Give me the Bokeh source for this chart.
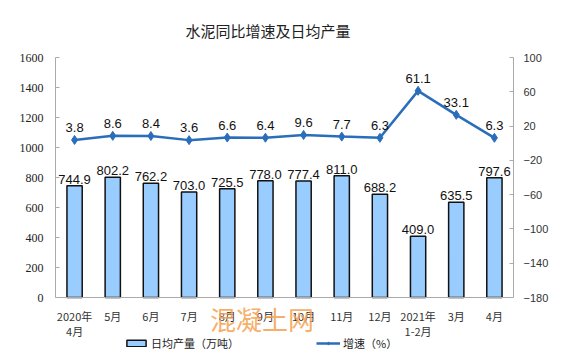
from bokeh.plotting import figure
from bokeh.models import (ColumnDataSource, Range1d, LinearAxis, FixedTicker, Legend, LegendItem,
                          FactorRange, Label, Span)
from bokeh.core.properties import value
from bokeh.embed import file_html
from bokeh.resources import INLINE

categories = ["2020年\n4月", "5月", "6月", "7月", "8月", "9月", "10月", "11月", "12月", "2021年\n1-2月", "3月", "4月"]
output = [744.9, 802.2, 762.2, 703.0, 725.5, 778.0, 777.4, 811.0, 688.2, 409.0, 635.5, 797.6]
growth = [3.8, 8.6, 8.4, 3.6, 6.6, 6.4, 9.6, 7.7, 6.3, 61.1, 33.1, 6.3]
left_ticks = [0, 200, 400, 600, 800, 1000, 1200, 1400, 1600]
right_ticks = [-180, -140, -100, -60, -20, 20, 60, 100]
left_span = (0, 1600)
right_span = (-180, 100)

src = ColumnDataSource(dict(
    cat=categories, out=output, gr=growth,
    out_lbl=["%.1f" % v for v in output],
    gr_lbl=["%.1f" % v for v in growth],
))

# the frame reaches down to the page bottom; value 0 sits 62px above it
frame_h, axis_h = 302, 240
lo_left = left_span[0] - (left_span[1] - left_span[0]) * (frame_h - axis_h) / axis_h
lo_right = right_span[0] - (right_span[1] - right_span[0]) * (frame_h - axis_h) / axis_h

p = figure(x_range=FactorRange(*categories), y_range=Range1d(lo_left, left_span[1]),
           frame_width=458, frame_height=frame_h, x_axis_location=None,
           min_border_left=55, min_border_right=63, min_border_top=55, min_border_bottom=0,
           output_backend="svg", toolbar_location=None, title="水泥同比增速及日均产量")
p.extra_y_ranges = {"pct": Range1d(lo_right, right_span[1])}

p.title.text_font = "Noto Sans CJK SC"
p.title.text_font_size = "15px"
p.title.text_font_style = "normal"
p.title.text_color = "#222222"
p.title.align = "left"
p.title.offset = 130
p.title.standoff = 34

p.outline_line_color = None
p.xgrid.grid_line_color = None
p.ygrid.grid_line_color = None
p.x_range.range_padding = 0
p.background_fill_color = "white"

# left axis
ya = p.yaxis[0]
ya.ticker = FixedTicker(ticks=left_ticks)
ya.bounds = left_span
ya.major_label_text_font = "Liberation Serif"
ya.major_label_text_font_size = "12px"
ya.major_label_text_color = "#222222"
ya.axis_line_color = "#AAAAAA"
ya.major_tick_line_color = "#AAAAAA"
ya.major_tick_in = 4
ya.major_tick_out = 0
ya.minor_tick_line_color = None
ya.major_label_standoff = 12

# right axis
ra = LinearAxis(y_range_name="pct", ticker=FixedTicker(ticks=right_ticks), bounds=right_span)
ra.major_label_overrides = {t: str(t).replace("-", "\u2212") for t in right_ticks}
ra.major_label_text_font = "Liberation Sans"
ra.major_label_text_font_size = "11px"
ra.major_label_text_color = "#333333"
ra.axis_line_color = "#AAAAAA"
ra.major_tick_line_color = "#AAAAAA"
ra.major_tick_in = 4
ra.major_tick_out = 0
ra.minor_tick_line_color = None
ra.major_label_standoff = 10
p.add_layout(ra, "right")

# category axis line and labels at value 0
p.add_layout(Span(location=0, dimension="width", line_color="#AAAAAA", line_width=1))
p.text(x="cat", y=0, text="cat", source=src, text_align="center", text_baseline="top",
       y_offset=10, text_font=value("Noto Sans CJK SC"), text_font_size="11px",
       text_color="#333333", text_line_height=0.95)

bars = p.vbar(x="cat", top="out", width=0.4, source=src, fill_color="#99CCFF",
              line_color="#111111", line_width=1.5)
p.text(x="cat", y="out", text="out_lbl", source=src, text_align="center", text_baseline="bottom",
       y_offset=-2, text_font=value("Liberation Sans"), text_font_size="13px", text_color="#111111")

ln = p.line(x="cat", y="gr", source=src, y_range_name="pct", line_color="#2A6EBB", line_width=2.5)
mk = p.scatter(x="cat", y="gr", source=src, y_range_name="pct", marker="diamond", size=9,
               fill_color="#2A6EBB", line_color="#2A6EBB")
p.text(x="cat", y="gr", text="gr_lbl", source=src, y_range_name="pct", text_align="center",
       text_baseline="bottom", y_offset=-8, text_font=value("Liberation Sans"),
       text_font_size="13px", text_color="#111111")

# watermark of the source image
p.add_layout(Label(x=4.05, y=-140, text="混凝土网", text_font="Noto Sans CJK SC",
                   text_font_size="26px", text_color="#F5A04F", text_alpha=0.85,
                   text_baseline="middle"))

legend = Legend(items=[LegendItem(label="日均产量（万吨）", renderers=[bars]),
                       LegendItem(label="增速（%）", renderers=[ln, mk])],
                orientation="horizontal", location=(69, 8), spacing=77,
                label_text_font="Noto Sans CJK SC", label_text_font_size="11px",
                label_text_color="#222222", glyph_width=24, glyph_height=8,
                border_line_color=None, background_fill_alpha=0, padding=0, margin=0,
                label_standoff=3, label_height=12)
p.add_layout(legend, "center")

open("out.html", "w").write(file_html(p, INLINE))
